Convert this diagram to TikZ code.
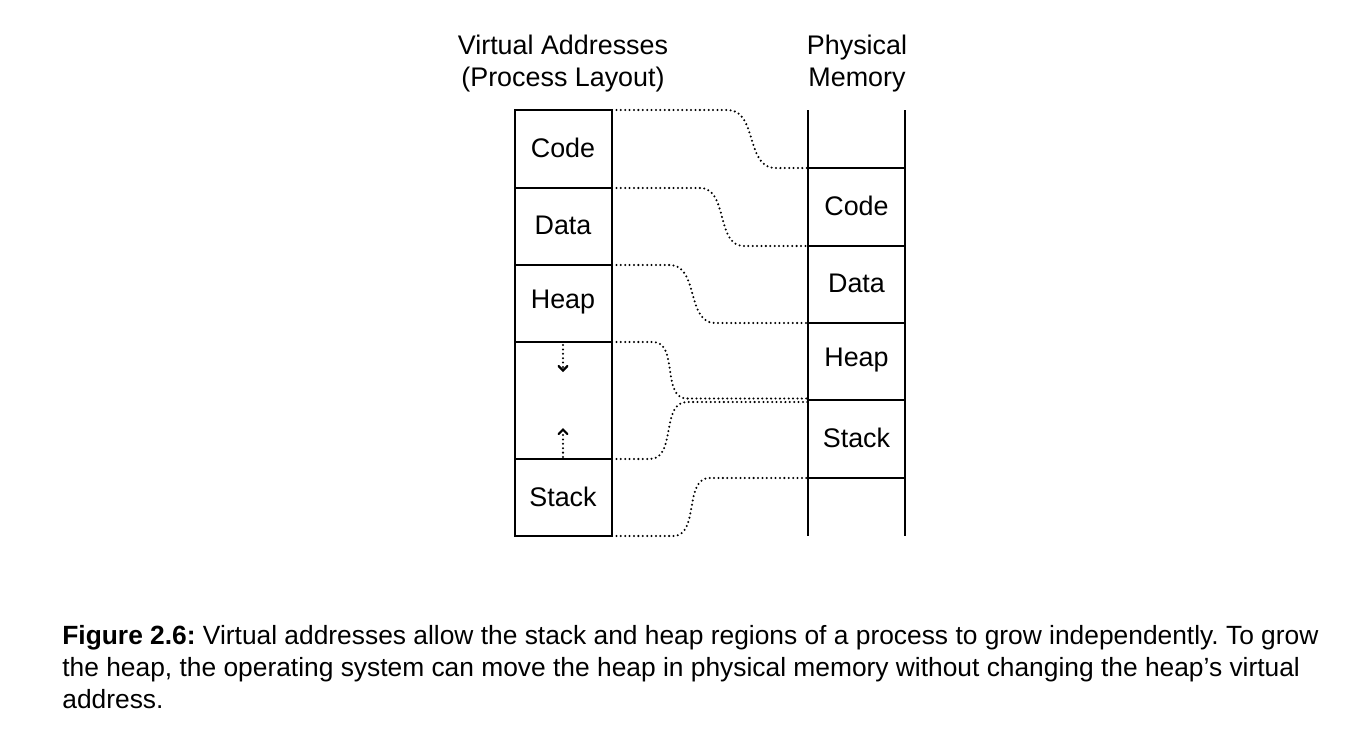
\documentclass[tikz,border=0pt]{standalone}
\usepackage{fontspec}
\setmainfont{Liberation Sans}
\usepackage{tikz}
\usetikzlibrary{arrows.meta}
\frenchspacing
\tikzstyle{none}=[inner sep=0pt]
\tikzstyle{txt}=[inner sep=0pt,align=center,font=\fontsize{15.3}{18.2}\selectfont]
\tikzstyle{captiontext}=[inner sep=0pt,align=left,anchor=west,font=\fontsize{15}{18}\selectfont]
\tikzstyle{wall}=[draw=black,line width=1.1pt]
\tikzstyle{link}=[draw=black,line width=1.3pt,dash pattern=on 0pt off 2.5pt,line cap=round]
\tikzstyle{growarrow}=[link,-{Straight Barb[length=2.5pt,width=5pt,line cap=round]}]

\begin{document}
\begin{tikzpicture}
 \useasboundingbox (0,0) rectangle (27.18,-14.66);
 \node [style=none] (0) at (10.30, -2.20) {};
 \node [style=none] (1) at (12.24, -2.20) {};
 \node [style=none] (2) at (10.30, -3.76) {};
 \node [style=none] (3) at (12.24, -3.76) {};
 \node [style=none] (4) at (10.30, -5.30) {};
 \node [style=none] (5) at (12.24, -5.30) {};
 \node [style=none] (6) at (10.30, -6.84) {};
 \node [style=none] (7) at (12.24, -6.84) {};
 \node [style=none] (8) at (10.30, -9.18) {};
 \node [style=none] (9) at (12.24, -9.18) {};
 \node [style=none] (10) at (10.30, -10.72) {};
 \node [style=none] (11) at (12.24, -10.72) {};
 \node [style=none] (12) at (16.16, -2.20) {};
 \node [style=none] (13) at (18.10, -2.20) {};
 \node [style=none] (14) at (16.16, -3.36) {};
 \node [style=none] (15) at (18.10, -3.36) {};
 \node [style=none] (16) at (16.16, -4.92) {};
 \node [style=none] (17) at (18.10, -4.92) {};
 \node [style=none] (18) at (16.16, -6.46) {};
 \node [style=none] (19) at (18.10, -6.46) {};
 \node [style=none] (20) at (16.16, -8.00) {};
 \node [style=none] (21) at (18.10, -8.00) {};
 \node [style=none] (22) at (16.16, -9.56) {};
 \node [style=none] (23) at (18.10, -9.56) {};
 \node [style=none] (24) at (16.16, -10.72) {};
 \node [style=none] (25) at (18.10, -10.72) {};
 \node [style=txt] (26) at (11.26, -2.95)  {Code};
 \node [style=txt] (27) at (11.26, -4.51)  {Data};
 \node [style=txt] (28) at (11.26, -6.05)  {Heap};
 \node [style=txt] (29) at (11.26, -9.93)  {Stack};
 \node [style=txt] (30) at (17.13, -4.11)  {Code};
 \node [style=txt] (31) at (17.13, -5.67)  {Data};
 \node [style=txt] (32) at (17.13, -7.21)  {Heap};
 \node [style=txt] (33) at (17.13, -8.76)  {Stack};
 \node [style=txt] (34) at (11.26, -1.28)  {Virtual Addresses\\(Process Layout)};
 \node [style=txt] (35) at (17.14, -1.28)  {Physical\\Memory};
 \node [style=captiontext] (36) at (1.24, -13.34) {\textbf{Figure 2.6:} Virtual addresses allow the stack and heap regions of a process to grow independently. To grow\\the heap, the operating system can move the heap in physical memory without changing the heap’s virtual\\address.};
 \node [style=none] (37) at (11.26, -6.90) {};
 \node [style=none] (38) at (11.26, -7.44) {};
 \node [style=none] (39) at (11.26, -9.14) {};
 \node [style=none] (40) at (11.26, -8.56) {};
 \node [style=none] (41) at (14.56, -2.20) {};
 \node [style=none] (42) at (15.50, -3.36) {};
 \node [style=none] (43) at (14.00, -3.76) {};
 \node [style=none] (44) at (14.88, -4.92) {};
 \node [style=none] (45) at (13.40, -5.30) {};
 \node [style=none] (46) at (14.30, -6.46) {};
 \node [style=none] (47) at (13.06, -6.84) {};
 \node [style=none] (48) at (13.74, -7.97) {};
 \node [style=none] (49) at (13.00, -9.18) {};
 \node [style=none] (50) at (13.74, -8.04) {};
 \node [style=none] (51) at (13.46, -10.72) {};
 \node [style=none] (52) at (14.20, -9.56) {};
 \node [style=none] (53) at (16.16, -7.97) {};
 \node [style=none] (54) at (16.16, -8.04) {};
 % virtual layout
 \draw [style=wall] (0.center) to (1.center) to (11.center) to (10.center) -- cycle;
 \draw [style=wall] (2.center) to (3.center);
 \draw [style=wall] (4.center) to (5.center);
 \draw [style=wall] (6.center) to (7.center);
 \draw [style=wall] (8.center) to (9.center);
 \draw [style=growarrow] (37.center) to (38.center);
 \draw [style=growarrow] (39.center) to (40.center);
 % physical memory
 \draw [style=wall] (12.center) to (24.center);
 \draw [style=wall] (13.center) to (25.center);
 \draw [style=wall] (14.center) to (15.center);
 \draw [style=wall] (16.center) to (17.center);
 \draw [style=wall] (18.center) to (19.center);
 \draw [style=wall] (20.center) to (21.center);
 \draw [style=wall] (22.center) to (23.center);
 % mappings
 \draw [style=link] (1.center) to (41.center) to [out=0,in=180] (42.center) to (14.center);
 \draw [style=link] (3.center) to (43.center) to [out=0,in=180] (44.center) to (16.center);
 \draw [style=link] (5.center) to (45.center) to [out=0,in=180] (46.center) to (18.center);
 \draw [style=link] (7.center) to (47.center) to [out=0,in=180] (48.center) to (53.center);
 \draw [style=link] (9.center) to (49.center) to [out=0,in=180] (50.center) to (54.center);
 \draw [style=link] (11.center) to (51.center) to [out=0,in=180] (52.center) to (22.center);
\end{tikzpicture}
\end{document}
